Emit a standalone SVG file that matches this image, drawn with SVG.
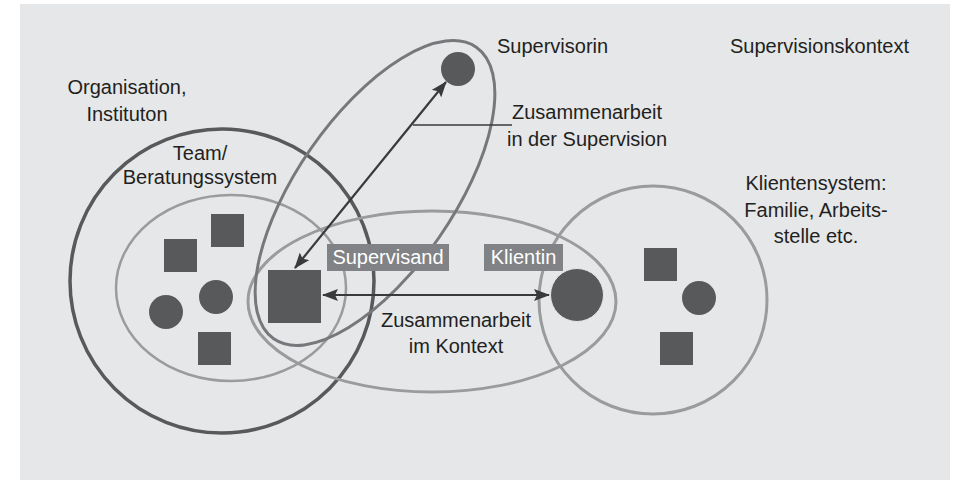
<svg xmlns="http://www.w3.org/2000/svg" width="957" height="481" viewBox="0 0 957 481">
<defs>
<style>
.t{font-family:"Liberation Sans",Arial,sans-serif;font-size:20px;fill:#231f20}
.m{text-anchor:middle}
.w{font-family:"Liberation Sans",Arial,sans-serif;font-size:20px;fill:#ffffff;text-anchor:middle}
.sh{fill:#58595b}
.box{fill:#808285}
.arr{stroke:#3a3a3c;stroke-width:2.2;fill:none}
</style>
<marker id="ah" viewBox="0 0 16 12" refX="15" refY="6" markerWidth="16" markerHeight="12" markerUnits="userSpaceOnUse" orient="auto-start-reverse">
<path d="M0,0 L16,6 L0,12 L3,6 z" fill="#3a3a3c"/>
</marker>
</defs>
<rect x="0" y="0" width="957" height="481" fill="#ffffff"/>
<rect x="20" y="4" width="930" height="476" fill="#e6e7e9"/>

<g id="organisation">
<circle cx="222" cy="281" r="152" fill="none" stroke="#58595b" stroke-width="3.5"/>
<text class="t m" x="127" y="94">Organisation,</text>
<text class="t m" x="127" y="121">Instituton</text>
</g>

<g id="team">
<ellipse cx="231" cy="288" rx="115" ry="93" fill="none" stroke="#9a9b9d" stroke-width="2.5"/>
<text class="t m" x="200" y="160">Team/</text>
<text class="t m" x="200" y="184">Beratungssystem</text>
<rect class="sh" x="164" y="239" width="33" height="33"/>
<rect class="sh" x="211" y="214" width="33" height="33"/>
<circle class="sh" cx="166" cy="312" r="17"/>
<circle class="sh" cx="216" cy="297" r="17"/>
<rect class="sh" x="198" y="332" width="33" height="33"/>
</g>

<g id="kontext">
<ellipse cx="432" cy="301.5" rx="184" ry="90.5" fill="none" stroke="#9a9b9d" stroke-width="3"/>
<text class="t m" x="456" y="327">Zusammenarbeit</text>
<text class="t m" x="456" y="353">im Kontext</text>
</g>

<g id="klientensystem">
<circle cx="653" cy="300" r="114" fill="none" stroke="#9a9b9d" stroke-width="3"/>
<text class="t m" x="816" y="190">Klientensystem:</text>
<text class="t m" x="816" y="217">Familie, Arbeits-</text>
<text class="t m" x="816" y="243">stelle etc.</text>
<rect class="sh" x="644" y="248" width="33" height="33"/>
<circle class="sh" cx="699" cy="298" r="17"/>
<rect class="sh" x="660" y="332" width="33" height="33"/>
</g>

<g id="supervision">
<ellipse cx="375" cy="193" rx="177.5" ry="78" transform="rotate(-55.2 375 193)" fill="none" stroke="#77787b" stroke-width="3"/>
</g>

<g id="supervisorin">
<circle class="sh" cx="458" cy="69" r="17"/>
<text class="t" x="497" y="53">Supervisorin</text>
</g>

<g id="supervisionskontext">
<text class="t" x="730" y="53">Supervisionskontext</text>
</g>

<g id="supervisand">
<rect class="sh" x="268" y="270" width="53" height="53"/>
<rect class="box" x="327" y="244" width="122" height="27"/>
<text class="w" x="388" y="264">Supervisand</text>
</g>

<g id="klientin">
<circle class="sh" cx="577" cy="295" r="26.5" stroke="#e6e7e9" stroke-width="1"/>
<rect class="box" x="484" y="244" width="79" height="27"/>
<text class="w" x="523.5" y="264">Klientin</text>
</g>

<g id="connectors">
<line class="arr" x1="295" y1="268" x2="446" y2="82" marker-start="url(#ah)" marker-end="url(#ah)"/>
<line class="arr" x1="323" y1="295" x2="549" y2="295" marker-start="url(#ah)" marker-end="url(#ah)"/>
<line x1="413" y1="125" x2="512" y2="125" stroke="#3a3a3c" stroke-width="1.3"/>
</g>

<g id="zusammenarbeit-supervision">
<text class="t m" x="587" y="119">Zusammenarbeit</text>
<text class="t m" x="587" y="146">in der Supervision</text>
</g>
</svg>
